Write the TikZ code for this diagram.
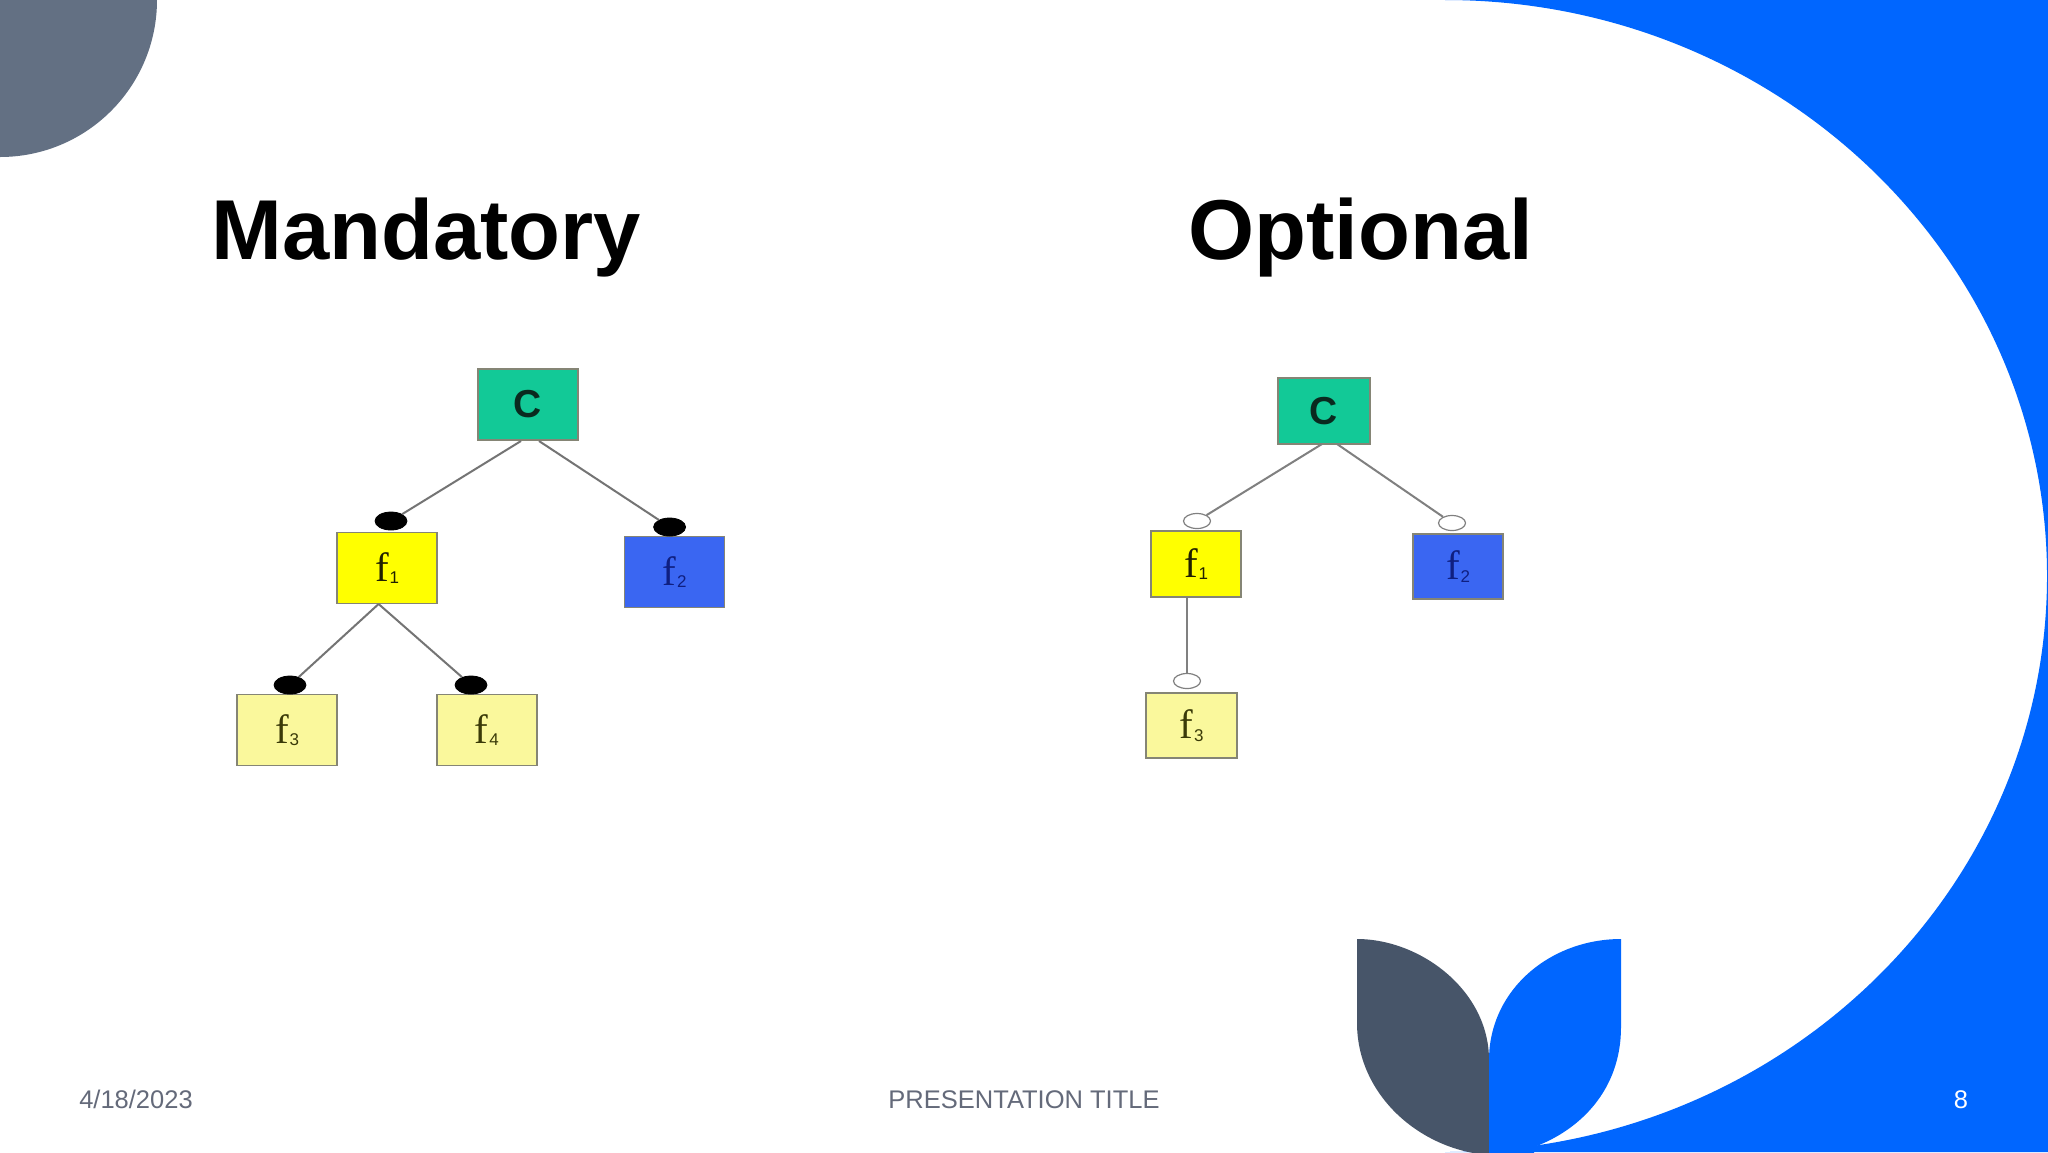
\documentclass[tikz,border=0pt]{standalone}
\usepackage{fontspec}
\setmainfont{Liberation Sans}
\newfontfamily\fserif{Liberation Serif}
\newfontfamily\fsans{Liberation Sans}
\usetikzlibrary{shapes.geometric}
\definecolor{slate}{HTML}{637083}
\definecolor{darkleaf}{HTML}{475569}
\definecolor{brandblue}{HTML}{0066FF}
\definecolor{cgreen}{HTML}{12C997}
\definecolor{fyellow}{HTML}{FFFF00}
\definecolor{fblue}{HTML}{3A66F2}
\definecolor{fpale}{HTML}{FAF89C}
\definecolor{footgray}{HTML}{646A7A}
\definecolor{edgegray}{HTML}{747474}
\definecolor{boxedge}{HTML}{858575}
\definecolor{ctxt}{HTML}{0A2A1F}
\definecolor{f1txt}{HTML}{202000}
\definecolor{f2txt}{HTML}{0F1F80}
\definecolor{f3txt}{HTML}{3A3A08}
\newcommand\fsub[1]{f\kern0.02em\raisebox{-0.06em}{\fsans\fontsize{8.5}{8.5}\selectfont #1}}
\begin{document}
\begin{tikzpicture}[x=0.5pt,y=-0.5pt,
  featbox/.style={rectangle, draw=boxedge, line width=0.8pt, inner sep=0pt,
    minimum width=50pt, minimum height=35.5pt},
  ctext/.style={font=\fontsize{19.5}{20}\selectfont\bfseries, text=ctxt},
  ftext/.style={font=\fontsize{20.5}{22}\selectfont\fserif},
  mand/.style={ellipse, fill=black, draw=black, inner sep=0pt,
    minimum width=16pt, minimum height=9pt},
  opt/.style={ellipse, fill=white, draw=gray, line width=0.6pt, inner sep=0pt,
    minimum width=13.5pt, minimum height=7.5pt},
  link/.style={draw=edgegray, line width=1pt},
  title/.style={font=\fontsize{42.5}{50}\selectfont\bfseries, inner sep=0pt, anchor=base west},
  foot/.style={font=\fontsize{12.75}{15}\selectfont, inner sep=0pt, anchor=base}
]
\useasboundingbox (0,0) rectangle (2048,1152);
\clip (0,0) rectangle (2048,1152);
\fill[white] (0,0) rectangle (2048,1152);

% background decorations
\fill[slate] (0,0) circle[radius=157];
\fill[brandblue] (1445,0) .. controls (1777.5,0) and (2047,257.9) .. (2047,576)
  .. controls (2047,894.1) and (1777.5,1152) .. (1445,1152)
  -- (2048,1152) -- (2048,0) -- cycle;
\fill[darkleaf] (1357,939) .. controls (1420,939) and (1489,990) .. (1489,1060)
  -- (1489,1160) -- (1489,1155) .. controls (1420,1150) and (1357,1095) .. (1357,1023) -- cycle;
\fill[brandblue] (1621,939) -- (1621,1027) .. controls (1621,1090) and (1580,1130) .. (1534,1147)
  -- (1534,1160) -- (1489,1160) -- (1489,1060) .. controls (1489,990) and (1550,939) .. (1621,939) -- cycle;

% titles
\node[title] (tmand) at (211,259) {Mandatory};
\node[title] (topt) at (1188,259) {Optional};

% left diagram: mandatory
\node[featbox, fill=cgreen, ctext] (mc) at (527.7,404.5) {C};
\node[featbox, fill=fyellow, ftext, text=f1txt] (mf1) at (387,568) {\fsub{1}};
\node[featbox, fill=fblue, ftext, text=f2txt] (mf2) at (674.6,572) {\fsub{2}};
\node[featbox, fill=fpale, ftext, text=f3txt] (mf3) at (287,730) {\fsub{3}};
\node[featbox, fill=fpale, ftext, text=f3txt] (mf4) at (486.8,730) {\fsub{4}};
\node[mand] (me1) at (391,521) {};
\node[mand] (me2) at (669.6,527) {};
\node[mand] (me3) at (290,685) {};
\node[mand] (me4) at (471,685) {};
\coordinate (mcl) at (521,441);
\coordinate (mcr) at (539,441);
\coordinate (mfb) at (378.6,604);
\draw[link] (mcl) -- (me1);
\draw[link] (mcr) -- (me2);
\draw[link] (mfb) -- (me3);
\draw[link] (mfb) -- (me4);

% right diagram: optional
\node[featbox, fill=cgreen, ctext, minimum width=46pt, minimum height=33pt] (oc) at (1324,411) {C};
\node[featbox, fill=fyellow, ftext, text=f1txt, minimum width=45pt, minimum height=33pt] (of1) at (1196,564) {\fsub{1}};
\node[featbox, fill=fblue, ftext, text=f2txt, minimum width=45pt, minimum height=32.5pt] (of2) at (1458,566.5) {\fsub{2}};
\node[featbox, fill=fpale, ftext, text=f3txt, minimum width=45.5pt, minimum height=32.5pt] (of3) at (1191.5,725.5) {\fsub{3}};
\coordinate (ocl) at (1322,444);
\coordinate (ocr) at (1337,444);
\coordinate (ofb) at (1187,597);
\node[opt] (oe1) at (1197,521) {};
\node[opt] (oe2) at (1452,523) {};
\node[opt] (oe3) at (1187,681) {};
\draw[link, draw=gray] (ocl) -- (oe1);
\draw[link, draw=gray] (ocr) -- (oe2);
\draw[link, draw=gray] (ofb) -- (oe3);

% footer
\node[foot, text=footgray] (fdate) at (136,1108) {4/18/2023};
\node[foot, text=footgray] (ftitle) at (1024,1108) {PRESENTATION TITLE};
\node[foot, text=white] (fnum) at (1961,1108) {8};
\end{tikzpicture}
\end{document}
